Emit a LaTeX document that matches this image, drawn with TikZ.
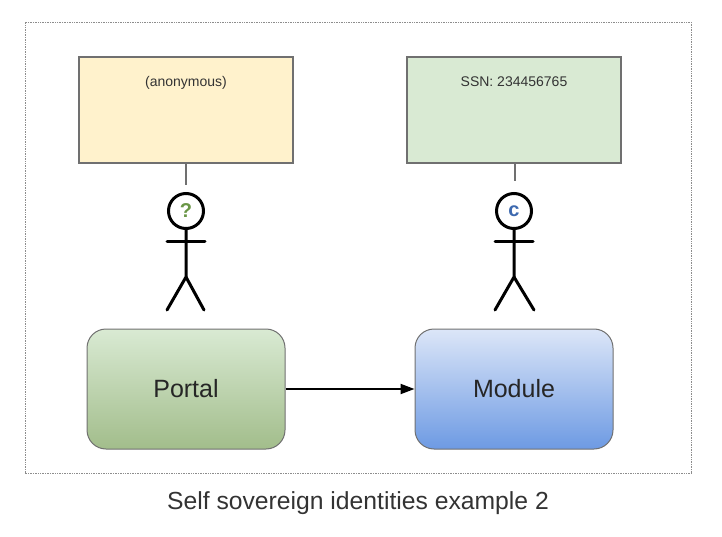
\documentclass[tikz,border=0pt]{standalone}
\usepackage{fontspec}
\setmainfont{Liberation Sans}
\usetikzlibrary{positioning}
\usetikzlibrary{arrows.meta}
\definecolor{cardyellow}{HTML}{FFF2CC}
\definecolor{cardgreen}{HTML}{D9EAD3}
\definecolor{portalbottom}{HTML}{A2BD8B}
\definecolor{moduletop}{HTML}{DCE6F8}
\definecolor{modulebottom}{HTML}{6D9AE3}
\definecolor{edgegrey}{HTML}{707070}
\definecolor{textgrey}{HTML}{333333}
\tikzset{card node/.style={rectangle,draw=edgegrey,line width=1.2pt,minimum width=214pt,minimum height=106pt,inner sep=0pt} }
\tikzset{card text/.style={font=\fontsize{14}{16}\selectfont,text=textgrey,inner sep=0pt} }
\tikzset{app node/.style={rectangle,rounded corners=19pt,draw=edgegrey,line width=1pt,minimum width=198pt,minimum height=120pt,inner sep=0pt,font=\fontsize{25}{29}\selectfont,text=black!85} }
\tikzset{head node/.style={circle,draw=black,line width=3pt,minimum size=35pt,inner sep=0pt,font=\bfseries\fontsize{20}{22}\selectfont} }
\tikzset{stick/.style={draw=black,line width=3pt,line cap=round} }

\begin{document}
\begin{tikzpicture}[x=1pt,y=1pt]
\useasboundingbox (0,0) rectangle (722,536);
\begin{scope}[on grid]

  \draw [edgegrey!80,densely dotted,line width=0.7pt] (25,63) rectangle (691,514);

  \node[app node,top color=cardgreen,bottom color=portalbottom] (portal) at (186,147) {Portal};
  \node[app node,top color=moduletop,bottom color=modulebottom] (module) [right =328pt of portal] {Module};

  \node[card node,fill=cardyellow] (anonbox) [above =279pt of portal] {};
  \node[card node,fill=cardgreen] (ssnbox) [above =279pt of module] {};
  \node[card text] (anon) [below =20pt of anonbox.north] {(anonymous)};
  \node[card text] (ssn) [below =20pt of ssnbox.north] {SSN: 234456765};

  \node[head node,text={rgb,255:red,106;green,150;blue,70}] (head1) at (186,325) {?};
  \node[head node,text={rgb,255:red,61;green,105;blue,175}] (head2) at (514,325) {c};

  \coordinate (tie1) at (186,351);
  \coordinate (tie2) at (515,355);
  \draw [edgegrey,line width=1.4pt] (anonbox.south) -- (tie1);
  \draw [edgegrey,line width=1.4pt] (ssnbox.south) ++(1,0) -- (tie2);

  \draw [stick] (head1) ++(0,-18) -- ++(0,-48) -- ++(-19,-33);
  \draw [stick] (head1) ++(0,-66) -- ++(18,-33);
  \draw [stick] (head1) ++(-19,-31) -- ++(38,0);

  \draw [stick] (head2) ++(0,-18) -- ++(0,-48) -- ++(-19,-33);
  \draw [stick] (head2) ++(0,-66) -- ++(20,-33);
  \draw [stick] (head2) ++(-19,-31) -- ++(38,0);

  \draw [-{Stealth[length=14pt,width=10pt,inset=0pt]},draw=black,line width=2pt] (portal) -- (module);

  \node[inner sep=0pt,font=\fontsize{24.7}{29}\selectfont,text=textgrey] (caption) at (358,33) {Self sovereign identities example 2};
\end{scope}
\end{tikzpicture}
\end{document}
